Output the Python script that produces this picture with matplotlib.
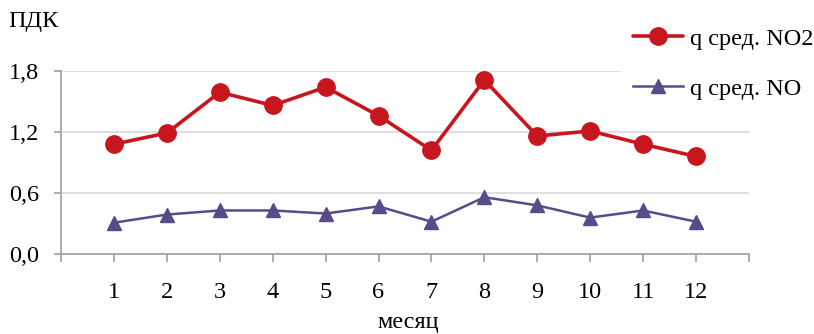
import matplotlib
matplotlib.use("Agg")
import matplotlib.pyplot as plt
from matplotlib.ticker import FixedLocator, FuncFormatter

months = list(range(1, 13))
no2_values = [1.08, 1.19, 1.59, 1.46, 1.64, 1.36, 1.02, 1.71, 1.16, 1.21, 1.08, 0.96]
no_values = [0.31, 0.39, 0.43, 0.43, 0.40, 0.47, 0.32, 0.56, 0.48, 0.36, 0.43, 0.32]
y_ticks = [0.0, 0.6, 1.2, 1.8]
series_labels = ["q сред. NO2", "q сред. NO"]

plt.rcParams["font.family"] = ["Liberation Serif", "DejaVu Serif"]
FS = 17.5
RED = "#C8161E"
PURPLE = "#594A8A"
AXIS_GRAY = "#A6A6A6"
GRID_GRAY = "#D9D9D9"

fig = plt.figure(figsize=(8.14, 3.34), dpi=100)
ax = fig.add_axes([0.075, 0.2386, 0.845, 0.5494])

ax.plot(months, no2_values, color=RED, lw=2.6, marker="o", ms=12.5,
        label=series_labels[0], zorder=4, solid_capstyle="round")
ax.plot(months, no_values, color=PURPLE, lw=1.8, marker="^", ms=10,
        label=series_labels[1], zorder=3)

ax.set_xlim(0, 13)
ax.set_ylim(0, 1.8)
ax.set_yticks(y_ticks)
ax.yaxis.set_major_formatter(FuncFormatter(lambda v, p: f"{v:.1f}".replace(".", ",")))
ax.set_xticks(months)
ax.set_xticklabels([str(m) for m in months])
ax.xaxis.set_minor_locator(FixedLocator([0, 13]))

ax.grid(axis="y", color=GRID_GRAY, lw=1.2, zorder=0)
ax.set_axisbelow(True)
for s in ("top", "right"):
    ax.spines[s].set_visible(False)
for s in ("left", "bottom"):
    ax.spines[s].set_color(AXIS_GRAY)
    ax.spines[s].set_linewidth(1.3)

ax.tick_params(axis="y", length=5, width=1.3, color=AXIS_GRAY, pad=11, labelsize=FS)
ax.tick_params(axis="x", which="both", length=6, width=1.3, color=AXIS_GRAY, pad=14, labelsize=FS)

fig.text(0.010, 0.935, "ПДК", fontsize=FS, ha="left", va="center")
fig.text(0.501, 0.018, "месяц", fontsize=FS, ha="center", va="baseline")

leg = fig.legend(loc="upper left", bbox_to_anchor=(0.748, 0.99),
                 fontsize=FS, frameon=True, framealpha=1, facecolor="white",
                 edgecolor="none", handlelength=2.05, handletextpad=0.3,
                 labelspacing=1.15, borderpad=0.5, fancybox=False)

fig.savefig("out.png", dpi=100)
